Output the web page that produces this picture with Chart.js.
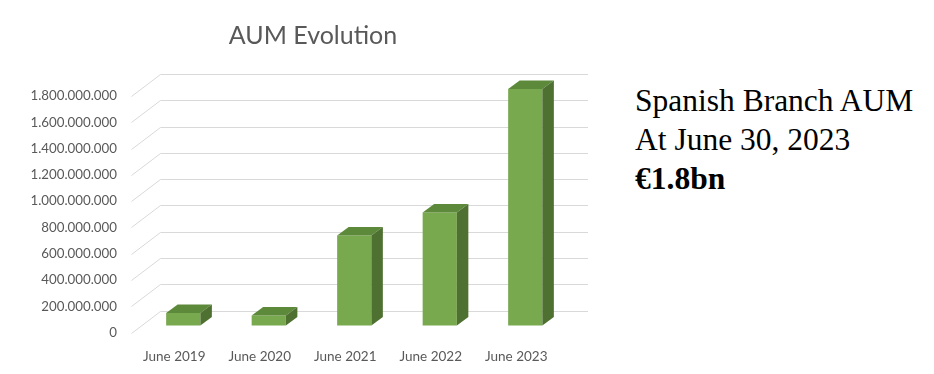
<!DOCTYPE html>
<html><head><meta charset="utf-8">
<script src="https://cdn.jsdelivr.net/npm/chart.js@4"></script>
<style>
html,body{margin:0;padding:0;background:#fff;}
#wrap{position:relative;width:934px;height:374px;overflow:hidden;background:#fff;}
#c{position:absolute;left:0;top:0;}
.title{position:absolute;left:0;top:18.8px;width:626px;text-align:center;font-family:Lato,sans-serif;font-size:25px;line-height:30px;color:#595959;white-space:nowrap;}
.note{position:absolute;left:635px;top:81px;font-family:"Liberation Serif","Times New Roman",serif;font-size:31.5px;line-height:39px;color:#000;white-space:nowrap;}
</style></head><body>
<div id="wrap"><canvas id="c" width="626" height="374"></canvas>
<div class="title">AUM Evolution</div>
<div class="note">Spanish Branch AUM<br>At June 30, 2023<br><b>€1.8bn</b></div></div>
<script>
const categories = ['June 2019', 'June 2020', 'June 2021', 'June 2022', 'June 2023'];
const aumValues = [96000000, 76000000, 685000000, 860000000, 1800000000];
const yTickValues = [0, 200000000, 400000000, 600000000, 800000000, 1000000000, 1200000000, 1400000000, 1600000000, 1800000000];
const yTickLabels = ['0', '200.000.000', '400.000.000', '600.000.000', '800.000.000', '1.000.000.000', '1.200.000.000', '1.400.000.000', '1.600.000.000', '1.800.000.000'];

const FRONT = '#78a94f', TOP = '#5d8a3a', SIDE = '#4e7031', GRID = '#d9d9d9', TEXT = '#595959';
const DEPTH = {x: 29, y: -22};
const BAR_SHIFT = {x: 9, y: -7};
const BAR_DEPTH = {x: 11.5, y: -8.5};

const bar3d = {
  id: 'bar3d',
  beforeDatasetsDraw(chart) {
    const {ctx, chartArea: a} = chart;
    const y = chart.scales.y;
    ctx.save();
    ctx.strokeStyle = GRID; ctx.lineWidth = 1;
    y.ticks.forEach(t => {
      const py = Math.round(y.getPixelForValue(t.value)) + 0.5;
      ctx.beginPath();
      ctx.moveTo(a.left, py);
      ctx.lineTo(a.left + DEPTH.x, py + DEPTH.y);
      ctx.lineTo(a.right + DEPTH.x, py + DEPTH.y);
      ctx.stroke();
    });
    ctx.restore();
    ctx.save();
    ctx.translate(BAR_SHIFT.x, BAR_SHIFT.y);
  },
  afterDatasetsDraw(chart) {
    const ctx = chart.ctx;
    chart.getDatasetMeta(0).data.forEach(bar => {
      const p = bar.getProps(['x', 'y', 'base', 'width'], true);
      const l = p.x - p.width / 2, r = p.x + p.width / 2;
      ctx.fillStyle = TOP;
      ctx.beginPath();
      ctx.moveTo(l, p.y); ctx.lineTo(r, p.y);
      ctx.lineTo(r + BAR_DEPTH.x, p.y + BAR_DEPTH.y);
      ctx.lineTo(l + BAR_DEPTH.x, p.y + BAR_DEPTH.y);
      ctx.closePath(); ctx.fill();
      ctx.fillStyle = SIDE;
      ctx.beginPath();
      ctx.moveTo(r, p.y);
      ctx.lineTo(r + BAR_DEPTH.x, p.y + BAR_DEPTH.y);
      ctx.lineTo(r + BAR_DEPTH.x, p.base + BAR_DEPTH.y);
      ctx.lineTo(r, p.base);
      ctx.closePath(); ctx.fill();
    });
    ctx.restore();
  }
};

new Chart(document.getElementById('c'), {
  type: 'bar',
  data: {
    labels: categories,
    datasets: [{
      label: 'AUM',
      data: aumValues,
      backgroundColor: FRONT,
      borderWidth: 0,
      barPercentage: 0.4,
      categoryPercentage: 1.0,
      clip: false
    }]
  },
  options: {
    responsive: false,
    animation: false,
    layout: {padding: {left: 0, right: 67, top: 96, bottom: 0}},
    plugins: {
      legend: {display: false},
      tooltip: {enabled: false},
      title: {display: false}
    },
    scales: {
      x: {
        grid: {display: false},
        border: {display: false},
        ticks: {color: TEXT, font: {family: 'Lato', size: 13.5}, padding: 8, maxRotation: 0},
        afterFit(s) { s.height = 41.5; }
      },
      y: {
        min: 0, max: 1800000000,
        grid: {display: false, drawTicks: false},
        border: {display: false},
        afterBuildTicks(s) { s.ticks = yTickValues.map(v => ({value: v})); },
        ticks: {
          color: TEXT, font: {family: 'Lato', size: 13.3}, padding: 14.5,
          callback: (v, i) => yTickLabels[i]
        },
        afterFit(s) { s.width = 131.5; }
      }
    }
  },
  plugins: [bar3d]
});
</script>
</body></html>
